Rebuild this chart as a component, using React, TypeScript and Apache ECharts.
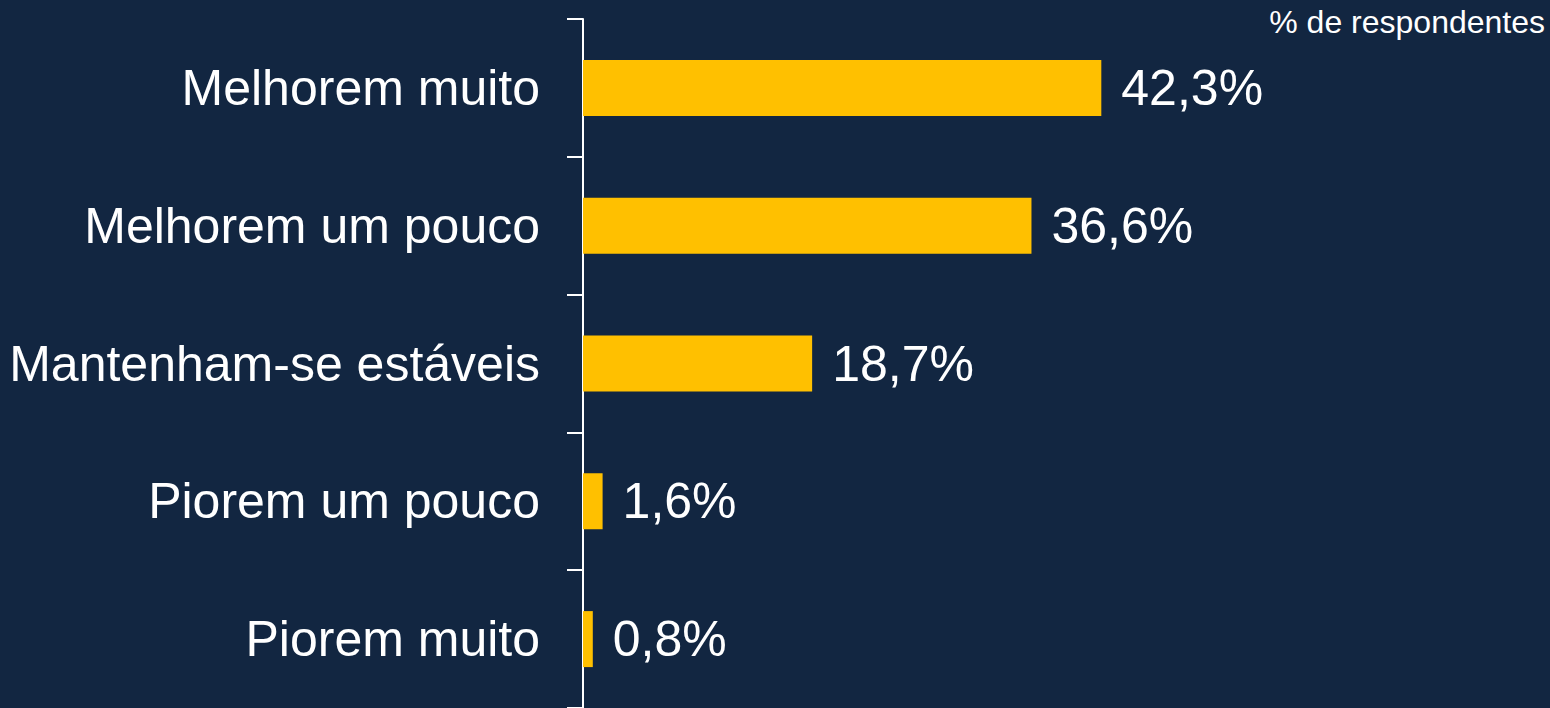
import React, { useEffect, useRef } from "react";
import * as echarts from "echarts";

const categories = [
  "Melhorem muito",
  "Melhorem um pouco",
  "Mantenham-se estáveis",
  "Piorem um pouco",
  "Piorem muito",
];
const values = [42.3, 36.6, 18.7, 1.6, 0.8];
const unitLabel = "% de respondentes";

const FONT = "'Liberation Sans', Arial, sans-serif";

export default function App() {
  const ref = useRef<HTMLDivElement>(null);
  useEffect(() => {
    if (!ref.current) return;
    const chart = echarts.init(ref.current, undefined, { renderer: "svg" });
    chart.setOption({
      animation: false,
      backgroundColor: "#122641",
      title: {
        text: unitLabel,
        right: 0,
        top: 1,
        textStyle: { color: "#ffffff", fontSize: 32, fontWeight: "normal", fontFamily: FONT },
      },
      grid: { left: 583, right: 48, top: 19, bottom: 0, containLabel: false },
      xAxis: {
        type: "value",
        min: 0,
        max: 75,
        show: false,
      },
      yAxis: {
        type: "category",
        data: categories,
        inverse: true,
        axisLine: { show: true, lineStyle: { color: "#ffffff", width: 2 } },
        axisTick: { show: true, length: 16, lineStyle: { color: "#ffffff", width: 2 } },
        axisLabel: { color: "#ffffff", fontSize: 50, fontFamily: FONT, margin: 43 },
        splitLine: { show: false },
      },
      series: [
        {
          type: "bar",
          data: values,
          barWidth: 56,
          itemStyle: { color: "#FFC000" },
          label: {
            show: true,
            position: "right",
            distance: 20,
            color: "#ffffff",
            fontSize: 50,
            fontFamily: FONT,
            formatter: (p: any) => p.value.toFixed(1).replace(".", ",") + "%",
          },
        },
      ],
    });
    return () => chart.dispose();
  }, []);
  return (
    <div
      ref={ref}
      style={{ position: "absolute", left: 0, top: 0, width: 1550, height: 708 }}
    />
  );
}
